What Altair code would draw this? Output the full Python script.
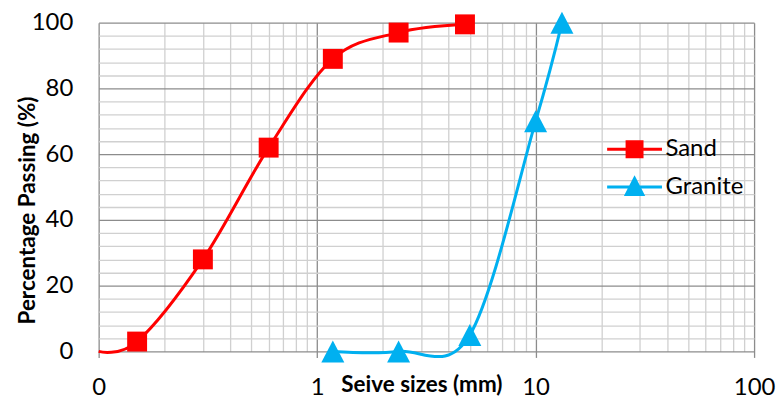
import altair as alt
import pandas as pd

# ---- data ----
sand_sizes = [0.1, 0.15, 0.3, 0.6, 1.18, 2.36, 4.75]
sand_pass = [0, 3, 28, 62, 89, 97, 99.5]
granite_sizes = [1.18, 2.36, 5.0, 10.0, 13.2]
granite_pass = [0, 0, 5, 70, 100]

series_names = ["Sand", "Granite"]
x_minor = [round(m * 10 ** k, 6) for k in (-1, 0, 1) for m in range(1, 10)] + [100]
y_ticks = list(range(0, 101, 4))

RED = "#FF0000"
BLUE = "#00B0F0"
FONT = "Lato"

rows = []
for s, p in zip(sand_sizes, sand_pass):
    rows.append({"series": "Sand", "size": s, "pass": p, "marker": s > 0.1})
for s, p in zip(granite_sizes, granite_pass):
    rows.append({"series": "Granite", "size": s, "pass": p, "marker": True})
df = pd.DataFrame(rows)

major_test = "indexof([0.1, 1, 10, 100], datum.value) >= 0"

x_scale = alt.Scale(type="log", domain=[0.1, 100], nice=False)
y_scale = alt.Scale(domain=[0, 100], nice=False, zero=True)

x_axis = alt.Axis(
    values=x_minor, tickCount=500,
    title="Seive sizes (mm)",
    titleFont=FONT, titleFontSize=22.5, titleFontWeight="bold", titleColor="#000",
    titleX=324, titleY=33, titleBaseline="middle", titleAnchor="middle", titleAlign="center",
    labelExpr="datum.value == 0.1 ? '0' : (indexof([1, 10, 100], datum.value) >= 0 ? format(datum.value, 'd') : '')",
    labelFont=FONT, labelFontSize=24, labelColor="#000", labelPadding=18,
    labelOverlap=False, labelFlush=False, labelBound=False,
    tickSize=6, tickColor="#8c8c8c", tickWidth=1.3,
    tickOpacity={"condition": {"test": major_test, "value": 1}, "value": 0},
    grid=True, gridWidth=1.3,
    gridColor={"condition": {"test": major_test, "value": "#8c8c8c"}, "value": "#d0d0d0"},
    domain=False,
)

y_axis = alt.Axis(
    values=y_ticks, tickCount=500,
    title="Percentage Passing (%)",
    titleFont=FONT, titleFontSize=22.5, titleFontWeight="bold", titleColor="#000",
    titleX=-71, titleY=188, titleBaseline="middle", titleAngle=-90, titleAnchor="middle", titleAlign="center",
    labelExpr="datum.value % 20 == 0 ? format(datum.value, 'd') : ''",
    labelFont=FONT, labelFontSize=24, labelColor="#000", labelPadding=26,
    labelOverlap=False, labelFlush=False, labelBound=False,
    ticks=False, tickSize=0,
    grid=True, gridWidth=1.3,
    gridColor={"condition": {"test": "datum.value % 20 == 0", "value": "#8c8c8c"}, "value": "#d0d0d0"},
    domain=False,
)

def cscale():
    return alt.Scale(domain=series_names, range=[RED, BLUE])

tri_path = "M0,-1L1.05,1L-1.05,1Z"
leg_sq = "M-3.67,0H3.67M-1,-1H1V1H-1Z"
leg_tri = "M-3.67,0H3.67M0,-1.15L1.1,1H-1.1Z"

legend = alt.Legend(
    title=None, orient="none", legendX=526, legendY=115,
    labelFont=FONT, labelFontSize=24, labelColor="#000", labelOffset=19,
    symbolSize=225, symbolStrokeWidth=3, symbolOpacity=1,
    rowPadding=9, padding=0, offset=0,
)

base = alt.Chart(df)

lines = base.mark_line(interpolate="cardinal", strokeWidth=3).encode(
    x=alt.X("size:Q", scale=x_scale, axis=x_axis),
    y=alt.Y("pass:Q", scale=y_scale, axis=y_axis),
    color=alt.Color("series:N", scale=cscale(), legend=None),
    order=alt.Order("size:Q"),
)

points = base.transform_filter("datum.marker").mark_point(filled=True, opacity=1).encode(
    x=alt.X("size:Q", scale=x_scale, axis=x_axis),
    y=alt.Y("pass:Q", scale=y_scale, axis=y_axis),
    color=alt.Color("series:N", scale=cscale(), legend=None),
    shape=alt.Shape("series:N", scale=alt.Scale(domain=series_names, range=["square", tri_path]), legend=None),
    size=alt.condition("datum.series === 'Granite'", alt.value(484), alt.value(400)),
)

# legend-only layer (no rows drawn; entries come from the scale domain)
legend_layer = base.transform_filter("false").mark_point(filled=True, opacity=1, strokeWidth=3, size=225).encode(
    x=alt.X("size:Q", scale=x_scale, axis=x_axis),
    y=alt.Y("pass:Q", scale=y_scale, axis=y_axis),
    color=alt.Color("series:N", scale=cscale(), legend=legend),
    stroke=alt.Stroke("series:N", scale=cscale(), legend=legend),
    shape=alt.Shape("series:N", scale=alt.Scale(domain=series_names, range=[leg_sq, leg_tri]), legend=legend),
)

chart = alt.layer(lines, points, legend_layer).resolve_scale(
    color="independent", shape="independent", stroke="independent"
).properties(
    width=658, height=330,
    autosize=alt.AutoSizeParams(type="none"),
    padding={"left": 91, "top": 14, "right": 22, "bottom": 50},
    background="white",
).configure_view(stroke=None)

chart.save("out.html", embed_options={"renderer": "svg", "actions": False})
